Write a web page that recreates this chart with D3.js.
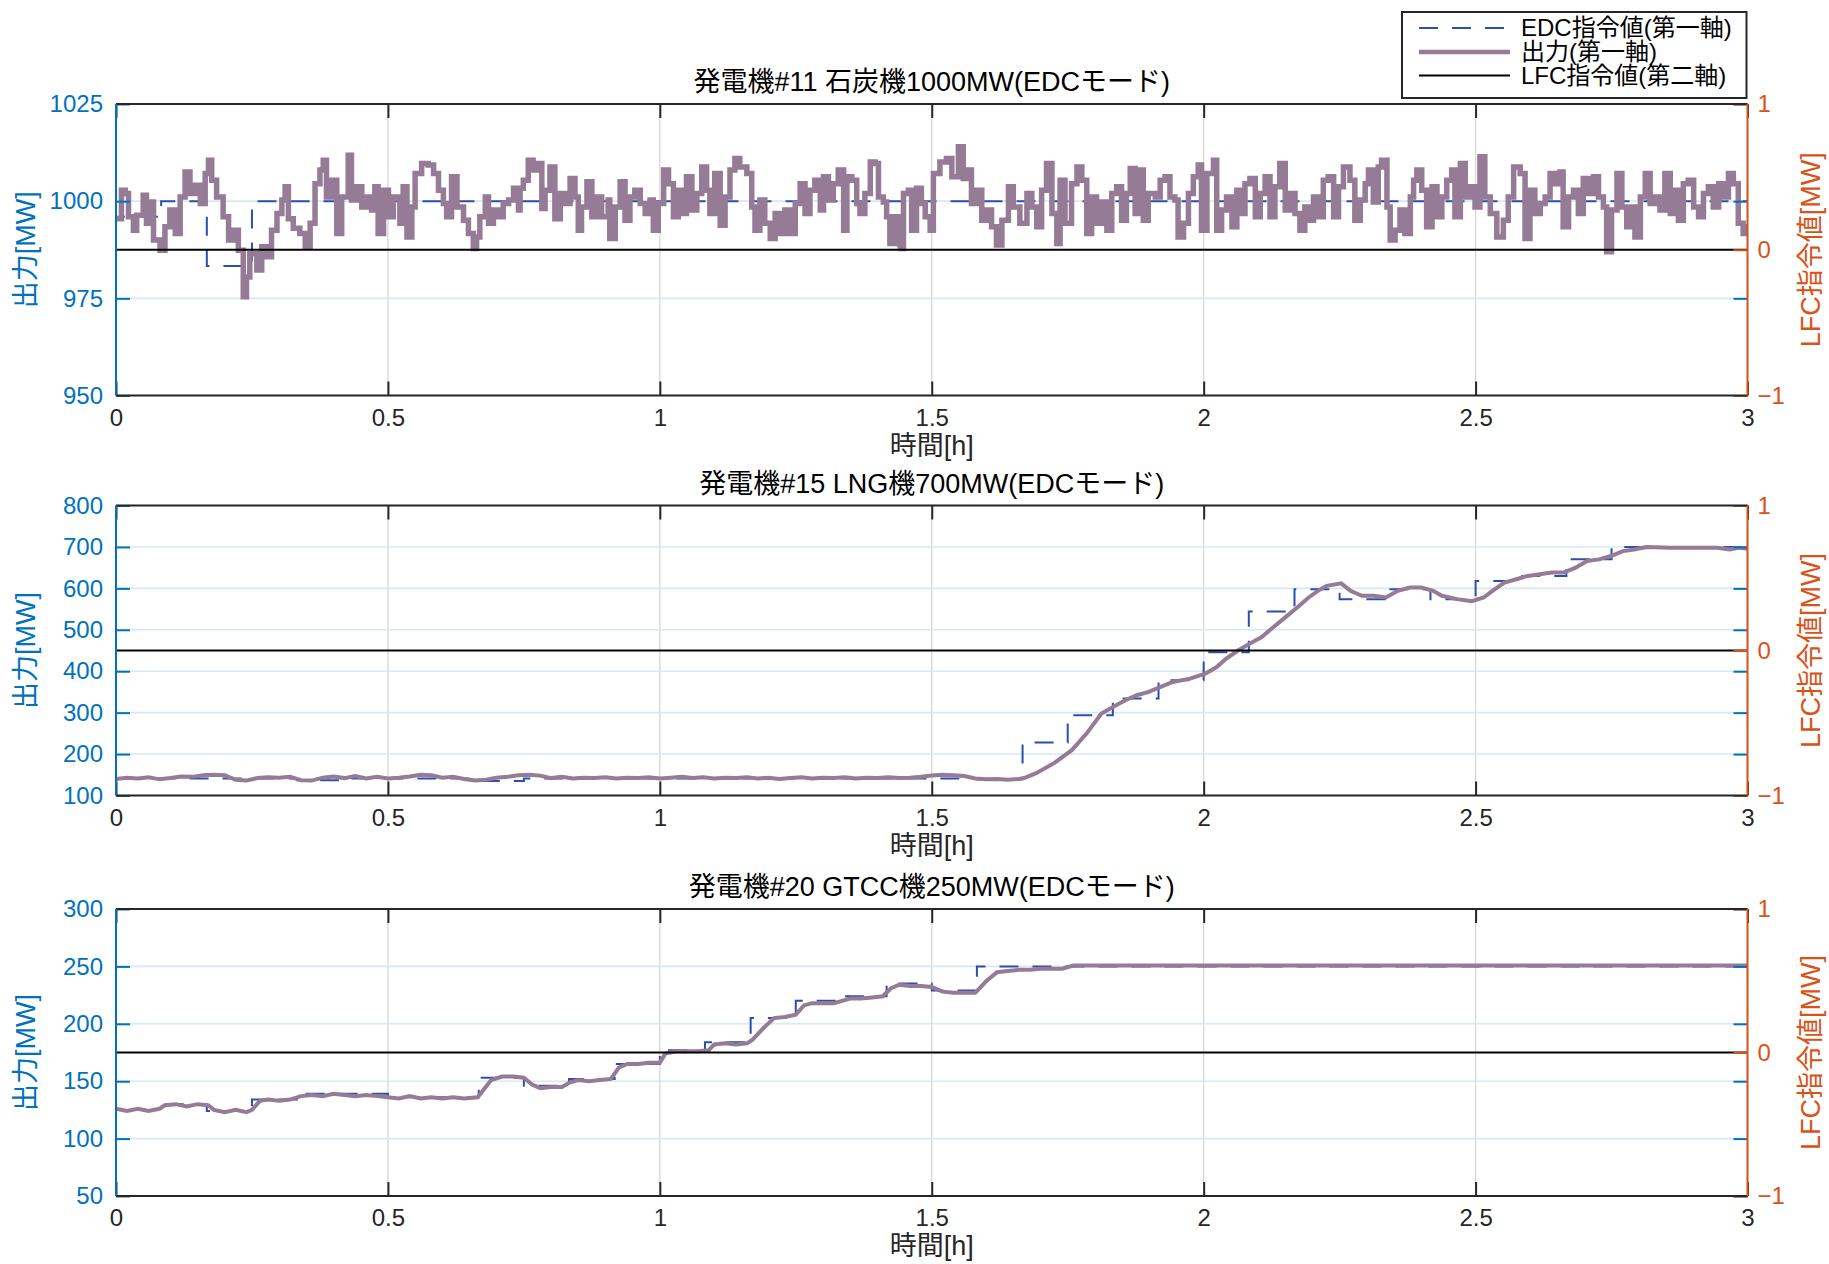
<!DOCTYPE html>
<html><head><meta charset="utf-8">
<script src="https://cdn.jsdelivr.net/npm/d3@7"></script>
<style>
body{margin:0;background:#fff;}
svg text{font-family:"Liberation Sans","Noto Sans CJK JP",sans-serif;}
</style></head><body>
<svg id="chart" width="1829" height="1264"></svg>
<script>
// ---------------- data ----------------
const timeTicks = [0, 0.5, 1, 1.5, 2, 2.5, 3];
const panelTitles = ["発電機#11 石炭機1000MW(EDCモード)", "発電機#15 LNG機700MW(EDCモード)", "発電機#20 GTCC機250MW(EDCモード)"];
const xLabel = "時間[h]";
const yLabelLeft = "出力[MW]";
const yLabelRight = "LFC指令値[MW]";
const legendLabels = ["EDC指令値(第一軸)", "出力(第一軸)", "LFC指令値(第二軸)"];
const leftDomain1 = [950, 1025], leftTicks1 = [950, 975, 1000, 1025];
const leftDomain2 = [100, 800], leftTicks2 = [100, 200, 300, 400, 500, 600, 700, 800];
const leftDomain3 = [50, 300], leftTicks3 = [50, 100, 150, 200, 250, 300];
const rightDomain = [-1, 1], rightTicks = [-1, 0, 1];
const lfc = [[0, 0], [3, 0]];

const edc1 = [[0,0],[0,996],[0.083,1000],[0.167,983.3],[0.25,1000],[3,1000]];
const edc2 = [[0,0],[0,141],[0.333,137],[0.417,141],[0.667,135],[0.75,141],[1.583,139],[1.667,228],[1.75,294],[1.833,334],[1.917,378],[2.0,446],[2.083,544],[2.167,598],[2.25,574],[2.333,598],[2.417,574],[2.5,618],[2.583,630],[2.667,670],[2.75,700],[3,700]];
const edc3 = [[0,0],[0,125],[0.083,130],[0.167,124],[0.25,134],[0.333,139],[0.417,139],[0.5,136],[0.667,153],[0.75,146],[0.833,152],[0.917,165],[1.0,177],[1.083,184],[1.167,205],[1.25,220],[1.333,224],[1.417,235],[1.5,229],[1.583,250],[3,250]];

const out1 = [[0,995.5],[0.010,1002.8],[0.017,1002.0],[0.023,996.0],[0.032,992.5],[0.038,996.4],[0.050,1001.5],[0.056,994.3],[0.063,999.8],[0.069,990.0],[0.081,987.4],[0.090,993.4],[0.099,997.7],[0.109,991.7],[0.118,1001.1],[0.127,1007.5],[0.136,1002.0],[0.145,1004.1],[0.155,999.4],[0.164,1007.1],[0.170,1010.5],[0.176,1005.4],[0.185,1001.1],[0.197,996.0],[0.207,990.0],[0.216,992.5],[0.225,987.4],[0.234,975.4],[0.240,980.5],[0.246,986.5],[0.259,982.3],[0.268,988.3],[0.277,985.7],[0.286,992.5],[0.296,996.8],[0.305,1000.3],[0.311,1003.7],[0.317,995.5],[0.326,993.0],[0.338,991.7],[0.348,988.3],[0.357,994.3],[0.366,1004.5],[0.375,1008.0],[0.381,1010.5],[0.387,1001.1],[0.397,1005.4],[0.406,991.7],[0.415,1001.1],[0.427,1011.8],[0.433,1000.3],[0.443,1003.7],[0.452,998.5],[0.461,1001.1],[0.470,997.7],[0.476,1003.7],[0.482,991.7],[0.492,1002.8],[0.501,996.0],[0.510,1001.1],[0.522,994.3],[0.528,1003.7],[0.535,990.8],[0.544,998.5],[0.550,1007.1],[0.562,1009.7],[0.574,1009.3],[0.584,1007.1],[0.593,1002.8],[0.602,999.4],[0.608,996.0],[0.617,1006.3],[0.627,998.5],[0.639,995.1],[0.648,991.7],[0.657,987.8],[0.663,990.8],[0.669,996.0],[0.679,1001.1],[0.685,994.3],[0.694,997.7],[0.703,996.0],[0.712,999.4],[0.722,1000.3],[0.731,1003.3],[0.740,997.7],
[0.743,1003.3],[0.749,1005.4],[0.758,1010.5],[0.767,1008.0],[0.777,1009.7],[0.783,998.1],[0.789,1002.8],[0.798,1008.8],[0.807,995.5],[0.817,1002.0],[0.826,999.4],[0.835,1005.8],[0.844,1001.1],[0.850,992.5],[0.856,998.5],[0.866,1005.0],[0.875,996.0],[0.884,1001.1],[0.893,996.0],[0.905,1000.3],[0.908,990.4],[0.918,998.5],[0.927,1005.0],[0.936,995.1],[0.945,1001.1],[0.954,1002.8],[0.964,999.4],[0.973,996.8],[0.982,1000.3],[0.988,992.5],[0.997,999.4],[1.007,1008.0],[1.016,1004.5],[1.025,996.0],[1.034,1002.8],[1.043,996.8],[1.049,1006.3],[1.059,997.7],[1.068,1002.0],[1.077,1008.8],[1.086,1002.8],[1.092,996.8],[1.101,1007.1],[1.111,993.8],[1.120,1001.1],[1.129,1008.0],[1.138,1011.0],[1.147,1008.8],[1.160,1007.1],[1.169,998.5],[1.175,992.5],[1.184,1000.3],[1.193,994.3],[1.203,990.4],[1.212,996.8],[1.221,991.7],[1.230,997.7],[1.239,991.7],[1.249,999.4],[1.258,1004.5],[1.267,996.8],[1.276,1002.8],[1.285,1005.4],[1.295,997.7],[1.301,1006.3],[1.310,1000.3],[1.319,1004.5],[1.328,1008.0],[1.338,992.5],[1.344,1006.3],[1.353,1005.4],[1.362,999.4],[1.368,996.8],[1.377,1002.0],[1.387,1010.1],[1.396,1009.7],[1.402,1001.1],[1.411,999.8],[1.417,996.0],[1.423,989.1],[1.432,996.0],[1.442,987.8],[1.448,1002.0],[1.457,1002.8],[1.463,992.5],[1.472,1003.3],[1.481,999.4],[1.488,996.0],[1.497,992.5],
[1.503,1007.1],[1.515,1010.1],[1.527,1011.0],[1.537,1006.3],[1.549,1014.0],[1.558,1005.8],[1.567,1008.0],[1.573,999.4],[1.583,1002.8],[1.592,995.1],[1.601,997.7],[1.610,993.4],[1.619,988.7],[1.629,995.1],[1.641,1003.7],[1.650,998.5],[1.662,994.3],[1.675,1002.0],[1.684,998.5],[1.693,993.4],[1.702,1002.8],[1.711,1009.7],[1.721,996.8],[1.730,989.1],[1.736,1005.4],[1.745,994.3],[1.757,1004.5],[1.767,1008.8],[1.776,1005.4],[1.785,991.7],[1.794,1001.1],[1.803,994.3],[1.813,999.8],[1.822,992.5],[1.831,1002.0],[1.840,1003.7],[1.849,995.1],[1.858,1002.0],[1.865,1008.4],[1.874,996.8],[1.880,1008.0],[1.889,995.1],[1.898,1002.0],[1.911,1001.1],[1.920,1005.4],[1.929,1006.3],[1.938,1001.1],[1.947,1000.3],[1.953,990.8],[1.963,994.3],[1.972,1002.0],[1.981,1006.3],[1.990,1009.3],[1.996,992.5],[2.006,1007.1],[2.018,1010.5],[2.024,992.5],[2.033,997.7],[2.042,1001.1],[2.052,993.4],[2.061,1002.8],[2.070,996.8],[2.076,1004.5],[2.085,1005.8],[2.095,996.0],[2.104,1002.0],[2.113,1006.3],[2.122,996.0],[2.131,1003.7],[2.140,1009.7],[2.150,997.7],[2.159,1002.0],[2.168,996.8],[2.177,992.5],[2.186,998.5],[2.196,995.1],[2.202,1001.1],[2.211,996.0],[2.220,1005.4],[2.229,1006.3],[2.239,996.0],[2.248,1003.7],[2.257,1008.8],[2.269,1005.4],
[2.278,995.1],[2.288,1000.3],[2.297,1004.5],[2.303,1008.0],[2.312,999.8],[2.321,1008.8],[2.327,1010.5],[2.337,998.5],[2.343,990.0],[2.352,992.5],[2.361,997.7],[2.370,991.7],[2.380,1001.1],[2.386,1005.4],[2.392,1008.0],[2.401,1002.8],[2.410,993.4],[2.420,1003.7],[2.429,996.0],[2.438,1001.1],[2.447,1005.4],[2.456,1008.0],[2.462,996.0],[2.472,1009.7],[2.481,1001.1],[2.490,1003.7],[2.499,998.5],[2.508,1011.4],[2.517,1001.1],[2.527,996.8],[2.539,990.8],[2.551,995.1],[2.560,1001.1],[2.570,1008.8],[2.582,1007.1],[2.591,990.4],[2.600,1002.8],[2.609,996.8],[2.619,999.4],[2.628,1001.1],[2.637,1007.1],[2.646,1004.5],[2.655,1007.5],[2.661,993.4],[2.671,1001.1],[2.680,1002.8],[2.689,996.8],[2.698,1005.8],[2.707,1002.0],[2.717,1006.3],[2.726,1001.1],[2.735,998.5],[2.741,987.0],[2.750,997.7],[2.760,1007.1],[2.769,998.5],[2.778,993.4],[2.784,998.5],[2.793,990.8],[2.803,1001.1],[2.812,1007.1],[2.821,999.4],[2.830,1001.1],[2.839,997.7],[2.848,1007.1],[2.858,996.8],[2.867,1002.8],[2.873,995.1],[2.882,1004.5],[2.891,1005.4],[2.901,998.5],[2.910,996.0],[2.919,1002.0],[2.928,1003.7],[2.937,998.5],[2.947,1004.5],[2.956,1001.1],[2.965,1007.1],[2.974,1004.5],[2.983,994.3],[2.992,991.7],[3.000,993.4]];

const out2 = [[0,140],[0.02,143],[0.04,141],[0.06,144],[0.08,139],[0.10,142],[0.12,146],[0.14,145],[0.16,149],[0.18,150],[0.20,149],[0.22,138],[0.24,136],[0.26,142],[0.28,144],[0.30,143],[0.32,145],[0.34,137],[0.36,136],[0.38,143],[0.40,146],[0.42,142],[0.44,147],[0.46,141],[0.48,145],[0.50,141],[0.52,143],[0.54,146],[0.56,150],[0.58,149],[0.60,143],[0.62,145],[0.64,140],[0.66,136],[0.68,138],[0.70,143],[0.72,145],[0.74,149],[0.76,150],[0.78,148],[0.80,142],[0.82,145],[0.84,141],[0.86,143],[0.88,142],[0.90,144],[0.92,141],[0.94,143],[0.96,142],[0.98,144],[1.00,141],[1.02,143],[1.04,145],[1.06,142],[1.08,144],[1.10,141],[1.12,143],[1.14,142],[1.16,144],[1.18,141],[1.20,143],[1.22,140],[1.24,142],[1.26,144],[1.28,141],[1.30,143],[1.32,142],[1.34,144],[1.36,141],[1.38,143],[1.40,142],[1.42,144],[1.44,142],[1.46,143],[1.48,145],[1.50,148],[1.52,150],[1.54,149],[1.56,147],[1.58,141],[1.60,139],[1.62,140],[1.64,138],[1.66,140],[1.670,142],[1.692,154],[1.725,178],[1.758,210],[1.785,250],[1.812,298],[1.834,314],[1.856,330],[1.877,342],[1.899,350],[1.921,362],[1.943,374],[1.975,382],[2.003,394],[2.024,410],[2.041,430],[2.063,450],[2.084,466],[2.106,482],[2.128,506],[2.150,530],[2.172,554],[2.193,578],[2.210,594],[2.226,606],[2.253,612],[2.270,594],[2.291,582],[2.313,582],[2.335,578],[2.357,594],[2.379,602],[2.400,602],[2.422,594],[2.438,582],[2.466,574],[2.493,569],[2.515,578],[2.531,594],[2.553,614],[2.575,622],[2.596,630],[2.618,634],[2.640,638],[2.662,638],[2.684,650],[2.705,666],[2.727,670],[2.749,678],[2.771,690],[2.792,694],[2.814,700],[2.858,698],[2.901,698],[2.945,698],[2.967,694],[2.984,698],[3.0,696]];

const out3 = [[0,126],[0.02,124],[0.04,126],[0.06,124],[0.08,126],[0.09,129],[0.11,130],[0.13,128],[0.15,130],[0.17,129],[0.18,125],[0.20,123],[0.22,125],[0.24,123],[0.25,125],[0.265,133],[0.28,134],[0.30,133],[0.32,134],[0.34,137],[0.36,138],[0.38,137],[0.40,139],[0.42,138],[0.44,137],[0.46,138],[0.48,137],[0.50,136],[0.52,135],[0.54,137],[0.56,135],[0.58,136],[0.60,135],[0.62,136],[0.64,135],[0.665,136],[0.69,151],[0.71,154],[0.73,154],[0.75,153],[0.765,147],[0.78,144],[0.80,145],[0.82,145],[0.835,149],[0.85,151],[0.87,150],[0.89,151],[0.91,152],[0.925,162],[0.94,165],[0.96,165],[0.98,166],[1.0,166],[1.01,174],[1.03,176],[1.05,176],[1.07,176],[1.09,177],[1.10,182],[1.12,183],[1.14,182],[1.16,183],[1.17,186],[1.19,196],[1.21,205],[1.23,206],[1.25,208],[1.265,216],[1.28,218],[1.30,218],[1.32,218],[1.335,220],[1.35,222],[1.37,222],[1.39,223],[1.41,224],[1.425,231],[1.44,234],[1.46,233],[1.48,233],[1.50,232],[1.52,228],[1.54,227],[1.56,227],[1.58,227],[1.60,237],[1.62,245],[1.64,246],[1.66,247],[1.68,247],[1.70,248],[1.72,248],[1.74,248],[1.76,250.8],[2.0,250.8],[2.2,250.8],[2.4,250.8],[2.6,250.8],[2.8,250.8],[3,250.8]];

// ---------------- layout / style ----------------
const plotLeft = 116, plotRight = 1747.5;
const panels = [
  {top: 104, bottom: 395.5, title: panelTitles[0], dom: leftDomain1, ticks: leftTicks1, edc: edc1, out: out1, outW: 5.5, outCurve: d3.curveStepAfter},
  {top: 505.5, bottom: 795.5, title: panelTitles[1], dom: leftDomain2, ticks: leftTicks2, edc: edc2, out: out2, outW: 4, outCurve: d3.curveLinear},
  {top: 909, bottom: 1196, title: panelTitles[2], dom: leftDomain3, ticks: leftTicks3, edc: edc3, out: out3, outW: 4, outCurve: d3.curveLinear}
];
const C = {
  left: "#0072BD", right: "#D95319", axis: "#262626",
  gridX: "#dadada", gridY: "#d8e8f4",
  out: "#957b95", edc: "#2b4fb0", lfc: "#000000"
};
const tickFont = 24, labelFont = 27, tickLen = 14;

const svg = d3.select("#chart");
svg.append("rect").attr("width", 1829).attr("height", 1264).attr("fill", "#fff");
const x = d3.scaleLinear().domain([0, 3]).range([plotLeft, plotRight]);

panels.forEach((p, i) => {
  const yL = d3.scaleLinear().domain(p.dom).range([p.bottom, p.top]);
  const yR = d3.scaleLinear().domain(rightDomain).range([p.bottom, p.top]);
  const g = svg.append("g");

  // grid
  g.append("g").selectAll("line").data(timeTicks).join("line")
    .attr("x1", d => x(d)).attr("x2", d => x(d)).attr("y1", p.top).attr("y2", p.bottom)
    .attr("stroke", C.gridX).attr("stroke-width", 1.4);
  g.append("g").selectAll("line").data(p.ticks).join("line")
    .attr("x1", plotLeft).attr("x2", plotRight).attr("y1", d => yL(d)).attr("y2", d => yL(d))
    .attr("stroke", C.gridY).attr("stroke-width", 1.6);

  // clip
  const cid = "clip" + i;
  svg.append("clipPath").attr("id", cid).append("rect")
    .attr("x", plotLeft).attr("y", p.top).attr("width", plotRight - plotLeft).attr("height", p.bottom - p.top);
  const lines = g.append("g").attr("clip-path", `url(#${cid})`);

  const lineL = (curve) => d3.line().x(d => x(d[0])).y(d => yL(d[1])).curve(curve);
  lines.append("path").attr("d", lineL(d3.curveStepAfter)(p.edc))
    .attr("fill", "none").attr("stroke", C.edc).attr("stroke-width", 2).attr("stroke-dasharray", "19,14");
  lines.append("path").attr("d", lineL(p.outCurve)(p.out))
    .attr("fill", "none").attr("stroke", C.out).attr("stroke-width", p.outW)
    .attr("stroke-linejoin", "miter").attr("stroke-linecap", "square");
  lines.append("path").attr("d", d3.line().x(d => x(d[0])).y(d => yR(d[1]))(lfc))
    .attr("fill", "none").attr("stroke", C.lfc).attr("stroke-width", 2.2);

  // axes
  const styleAxis = (sel, color) => {
    sel.select(".domain").remove();
    sel.selectAll(".tick line").attr("stroke", color).attr("stroke-width", 2);
    sel.selectAll(".tick text").attr("fill", color).attr("font-size", tickFont)
      .attr("font-family", '"Liberation Sans","Noto Sans CJK JP",sans-serif');
  };
  g.append("g").attr("transform", `translate(0,${p.bottom})`)
    .call(d3.axisBottom(x).tickValues(timeTicks).tickFormat(d3.format("~g")).tickSize(-tickLen).tickPadding(13))
    .call(s => styleAxis(s, C.axis));
  g.append("g").attr("transform", `translate(0,${p.top})`)
    .call(d3.axisTop(x).tickValues(timeTicks).tickFormat("").tickSize(-tickLen))
    .call(s => styleAxis(s, C.axis));
  g.append("g").attr("transform", `translate(${plotLeft},0)`)
    .call(d3.axisLeft(yL).tickValues(p.ticks).tickFormat(d3.format("d")).tickSize(-tickLen).tickPadding(13))
    .call(s => styleAxis(s, C.left));
  g.append("g").attr("transform", `translate(${plotRight},0)`)
    .call(d3.axisRight(yL).tickValues(p.ticks).tickFormat("").tickSize(-tickLen))
    .call(s => styleAxis(s, C.left));
  g.append("g").attr("transform", `translate(${plotRight},0)`)
    .call(d3.axisRight(yR).tickValues(rightTicks).tickFormat(d3.format("~g")).tickSize(-tickLen).tickPadding(10))
    .call(s => styleAxis(s, C.right));

  // box lines
  g.append("line").attr("x1", plotLeft).attr("x2", plotRight).attr("y1", p.top).attr("y2", p.top).attr("stroke", C.axis).attr("stroke-width", 2);
  g.append("line").attr("x1", plotLeft).attr("x2", plotRight).attr("y1", p.bottom).attr("y2", p.bottom).attr("stroke", C.axis).attr("stroke-width", 2);
  g.append("line").attr("x1", plotLeft).attr("x2", plotLeft).attr("y1", p.top).attr("y2", p.bottom).attr("stroke", C.left).attr("stroke-width", 2);
  g.append("line").attr("x1", plotRight).attr("x2", plotRight).attr("y1", p.top).attr("y2", p.bottom).attr("stroke", C.right).attr("stroke-width", 2);

  // titles and labels
  const cx = (plotLeft + plotRight) / 2, cy = (p.top + p.bottom) / 2;
  g.append("text").attr("x", cx).attr("y", p.top - 13).attr("text-anchor", "middle")
    .attr("font-size", labelFont).attr("fill", "#000").text(p.title);
  g.append("text").attr("x", cx).attr("y", p.bottom + 59).attr("text-anchor", "middle")
    .attr("font-size", labelFont).attr("fill", C.axis).text(xLabel);
  g.append("text").attr("transform", `translate(26,${cy}) rotate(-90)`).attr("dy", "0.35em")
    .attr("text-anchor", "middle").attr("font-size", labelFont).attr("fill", C.left).text(yLabelLeft);
  g.append("text").attr("transform", `translate(1811,${cy}) rotate(-90)`).attr("dy", "0.35em")
    .attr("text-anchor", "middle").attr("font-size", labelFont).attr("fill", C.right).text(yLabelRight);
});

// legend
const lg = svg.append("g");
lg.append("rect").attr("x", 1402).attr("y", 12).attr("width", 344.5).attr("height", 86)
  .attr("fill", "#fff").attr("stroke", C.axis).attr("stroke-width", 2);
const legendStyles = [
  {color: C.edc, w: 2, dash: "19,14"},
  {color: C.out, w: 4.5, dash: null},
  {color: C.lfc, w: 2, dash: null}
];
const rowY = [28, 52, 75.5];
legendLabels.forEach((lab, k) => {
  const s = legendStyles[k];
  lg.append("line").attr("x1", 1419).attr("x2", 1510).attr("y1", rowY[k]).attr("y2", rowY[k])
    .attr("stroke", s.color).attr("stroke-width", s.w).attr("stroke-dasharray", s.dash);
  lg.append("text").attr("x", 1521).attr("y", rowY[k]).attr("dy", "0.35em")
    .attr("font-size", 24).attr("fill", "#000").text(lab);
});
</script>
</body></html>
